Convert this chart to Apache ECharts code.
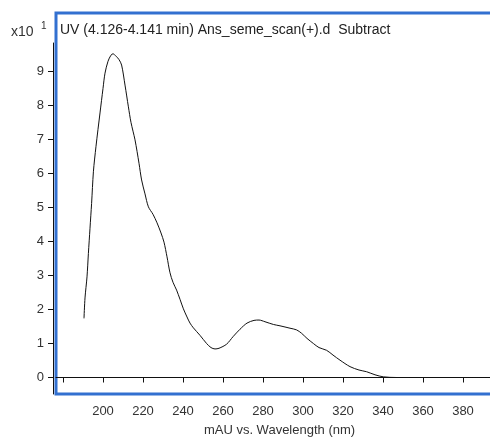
<!DOCTYPE html>
<html><head><meta charset="utf-8">
<script src="https://cdn.jsdelivr.net/npm/echarts@6/dist/echarts.min.js"></script>
<style>html,body{margin:0;padding:0;background:#fff}#c{width:490px;height:437px}</style>
</head><body><div id="c"></div>
<script>
// Wavelength (nm)
const wavelengths = [190.5, 191, 192, 192.7, 193.5, 194.3, 195.2, 196.5, 198.5, 200, 201, 202.5, 204, 205, 206.5, 208, 209.3, 211, 212.7, 214, 216, 218, 219.3, 221, 222.7, 225, 227, 229, 230.5, 232, 233.5, 235, 236.8, 238.5, 240.2, 242, 243.5, 245.2, 248.5, 251.8, 254, 256, 258, 261.8, 265, 268.5, 272, 275.5, 278, 281, 285.2, 288.5, 293.5, 296.8, 299.3, 302, 305.2, 308, 311.8, 315, 318.5, 323.5, 328, 331.8, 336, 340.2, 346.8, 360, 380, 393.5];
// Signal (x10 mAU)
const absorbance = [1.74, 2.34, 2.96, 3.65, 4.39, 5.12, 6.05, 6.8, 7.78, 8.5, 8.95, 9.3, 9.48, 9.52, 9.45, 9.35, 9.19, 8.6, 7.96, 7.5, 6.99, 6.3, 5.81, 5.4, 5.02, 4.8, 4.55, 4.25, 3.98, 3.55, 3.08, 2.8, 2.57, 2.3, 2.02, 1.78, 1.6, 1.46, 1.24, 1.0, 0.88, 0.84, 0.86, 0.98, 1.2, 1.42, 1.6, 1.68, 1.69, 1.64, 1.56, 1.52, 1.45, 1.4, 1.3, 1.15, 1.0, 0.88, 0.8, 0.66, 0.51, 0.32, 0.22, 0.17, 0.08, 0.02, 0.0, 0.0, 0.0, 0.0];
const xTickValues = [180, 200, 220, 240, 260, 280, 300, 320, 340, 360, 380];
const xLabelValues = [200, 220, 240, 260, 280, 300, 320, 340, 360, 380];
const yTickValues = [0, 1, 2, 3, 4, 5, 6, 7, 8, 9];
const titleText = 'UV (4.126-4.141 min) Ans_seme_scan(+).d  Subtract';
const xAxisName = 'mAU vs. Wavelength (nm)';
const yScaleBase = 'x10';
const yScaleExp = '1';

const font = '"Liberation Sans", Arial, sans-serif';
const chart = echarts.init(document.getElementById('c'), null, {renderer: 'canvas'});
const option = {
  animation: false,
  backgroundColor: '#fff',
  grid: [
    {left: 56, top: 13, right: -13, bottom: 43, show: true, borderColor: '#3270d0', borderWidth: 3, outerBoundsMode: 'none', containLabel: false},
    {left: 56, top: 43, right: -13, bottom: 43, outerBoundsMode: 'none', containLabel: false}
  ],
  xAxis: [
    {gridIndex: 0, type: 'value', min: 176.5, max: 400, offset: 3,
     axisLine: {show: true, lineStyle: {color: '#111', width: 1}},
     axisTick: {show: true, customValues: xTickValues, length: 5, lineStyle: {color: '#111'}},
     axisLabel: {customValues: xLabelValues, fontSize: 13, color: '#333', fontFamily: font, margin: 8},
     splitLine: {show: false},
     name: xAxisName, nameLocation: 'middle', nameGap: 27,
     nameTextStyle: {fontSize: 13, color: '#333', fontFamily: font}},
    {gridIndex: 1, type: 'value', min: 176.5, max: 400, show: false}
  ],
  yAxis: [
    {gridIndex: 0, type: 'value', min: -0.485, max: 10.72, show: false},
    {gridIndex: 1, type: 'value', min: -0.485, max: 9.838, offset: 3,
     axisLine: {show: true, lineStyle: {color: '#111', width: 1}},
     axisTick: {show: true, customValues: yTickValues, length: 5, lineStyle: {color: '#111'}},
     axisLabel: {customValues: yTickValues, fontSize: 13, color: '#333', fontFamily: font, margin: 9},
     splitLine: {show: false}}
  ],
  graphic: [
    {type: 'text', left: 60, top: 23, style: {text: titleText, font: '14px ' + font, fill: '#222'}},
    {type: 'text', left: 11, top: 25, style: {text: yScaleBase, font: '14px ' + font, fill: '#333'}},
    {type: 'text', left: 41, top: 21, style: {text: yScaleExp, font: '10px ' + font, fill: '#333'}}
  ],
  series: [{
    type: 'line', xAxisIndex: 0, yAxisIndex: 0,
    data: wavelengths.map((w, i) => [w, absorbance[i]]),
    showSymbol: false, smooth: 0.3,
    lineStyle: {color: '#111', width: 1}
  }]
};
chart.setOption(option);
</script>
</body></html>
